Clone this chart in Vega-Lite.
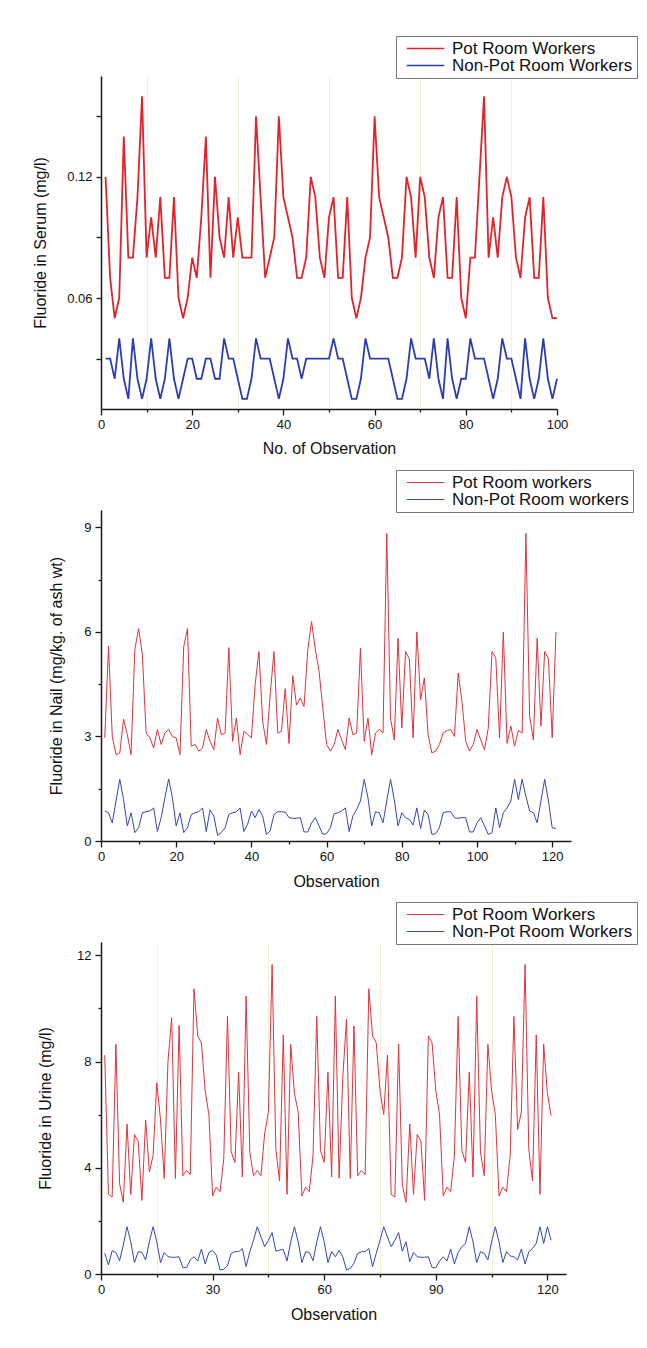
{
"$schema": "https://vega.github.io/schema/vega-lite/v6.json",
"background": "white",
"padding": {"left": 32, "top": 35, "right": 5, "bottom": 5},
"spacing": 101,
"bounds": "flush",
"resolve": {"scale": {"color": "independent"}, "legend": {"color": "independent"}},
"config": {
  "font": "Liberation Sans",
  "view": {"stroke": null},
  "axis": {"domainColor": "#1a1a1a", "domainWidth": 1.5, "tickColor": "#1a1a1a", "tickWidth": 1.3, "labelColor": "#111", "titleColor": "#111", "labelFont": "Liberation Sans", "titleFont": "Liberation Sans", "labelFontSize": 13, "titleFontSize": 16, "titleFontWeight": "normal", "labelFlush": false, "labelOverlap": false, "labelBound": false, "grid": false},
  "legend": {"orient": "none", "legendX": 295, "legendY": -40, "title": null, "symbolType": "M-2.5,0H2.5", "symbolSize": 225, "symbolOffset": 17, "labelFont": "Liberation Sans", "labelFontSize": 17, "labelColor": "#111", "strokeColor": "#777", "fillColor": "white", "padding": 4, "rowPadding": -2, "labelOffset": 18, "labelLimit": 400}
},
"datasets": {
"serum": [
{"obs":1,"group":"P","value":0.12},{"obs":2,"group":"P","value":0.07},{"obs":3,"group":"P","value":0.05},{"obs":4,"group":"P","value":0.06},{"obs":5,"group":"P","value":0.14},
{"obs":6,"group":"P","value":0.08},{"obs":7,"group":"P","value":0.08},{"obs":8,"group":"P","value":0.11},{"obs":9,"group":"P","value":0.16},{"obs":10,"group":"P","value":0.08},
{"obs":11,"group":"P","value":0.10},{"obs":12,"group":"P","value":0.08},{"obs":13,"group":"P","value":0.11},{"obs":14,"group":"P","value":0.07},{"obs":15,"group":"P","value":0.07},
{"obs":16,"group":"P","value":0.11},{"obs":17,"group":"P","value":0.06},{"obs":18,"group":"P","value":0.05},{"obs":19,"group":"P","value":0.06},{"obs":20,"group":"P","value":0.08},
{"obs":21,"group":"P","value":0.07},{"obs":22,"group":"P","value":0.10},{"obs":23,"group":"P","value":0.14},{"obs":24,"group":"P","value":0.07},{"obs":25,"group":"P","value":0.12},
{"obs":26,"group":"P","value":0.09},{"obs":27,"group":"P","value":0.08},{"obs":28,"group":"P","value":0.11},{"obs":29,"group":"P","value":0.08},{"obs":30,"group":"P","value":0.10},
{"obs":31,"group":"P","value":0.08},{"obs":32,"group":"P","value":0.08},{"obs":33,"group":"P","value":0.08},{"obs":34,"group":"P","value":0.15},{"obs":35,"group":"P","value":0.11},
{"obs":36,"group":"P","value":0.07},{"obs":37,"group":"P","value":0.08},{"obs":38,"group":"P","value":0.09},{"obs":39,"group":"P","value":0.15},{"obs":40,"group":"P","value":0.11},
{"obs":41,"group":"P","value":0.10},{"obs":42,"group":"P","value":0.09},{"obs":43,"group":"P","value":0.07},{"obs":44,"group":"P","value":0.07},{"obs":45,"group":"P","value":0.08},
{"obs":46,"group":"P","value":0.12},{"obs":47,"group":"P","value":0.11},{"obs":48,"group":"P","value":0.08},{"obs":49,"group":"P","value":0.07},{"obs":50,"group":"P","value":0.10},
{"obs":51,"group":"P","value":0.11},{"obs":52,"group":"P","value":0.07},{"obs":53,"group":"P","value":0.07},{"obs":54,"group":"P","value":0.11},{"obs":55,"group":"P","value":0.06},
{"obs":56,"group":"P","value":0.05},{"obs":57,"group":"P","value":0.06},{"obs":58,"group":"P","value":0.08},{"obs":59,"group":"P","value":0.09},{"obs":60,"group":"P","value":0.15},
{"obs":61,"group":"P","value":0.11},{"obs":62,"group":"P","value":0.10},{"obs":63,"group":"P","value":0.09},{"obs":64,"group":"P","value":0.07},{"obs":65,"group":"P","value":0.07},
{"obs":66,"group":"P","value":0.08},{"obs":67,"group":"P","value":0.12},{"obs":68,"group":"P","value":0.11},{"obs":69,"group":"P","value":0.08},{"obs":70,"group":"P","value":0.12},
{"obs":71,"group":"P","value":0.11},{"obs":72,"group":"P","value":0.08},{"obs":73,"group":"P","value":0.07},{"obs":74,"group":"P","value":0.10},{"obs":75,"group":"P","value":0.11},
{"obs":76,"group":"P","value":0.07},{"obs":77,"group":"P","value":0.07},{"obs":78,"group":"P","value":0.11},{"obs":79,"group":"P","value":0.06},{"obs":80,"group":"P","value":0.05},
{"obs":81,"group":"P","value":0.08},{"obs":82,"group":"P","value":0.08},{"obs":83,"group":"P","value":0.12},{"obs":84,"group":"P","value":0.16},{"obs":85,"group":"P","value":0.08},
{"obs":86,"group":"P","value":0.10},{"obs":87,"group":"P","value":0.08},{"obs":88,"group":"P","value":0.11},{"obs":89,"group":"P","value":0.12},{"obs":90,"group":"P","value":0.11},
{"obs":91,"group":"P","value":0.08},{"obs":92,"group":"P","value":0.07},{"obs":93,"group":"P","value":0.10},{"obs":94,"group":"P","value":0.11},{"obs":95,"group":"P","value":0.07},
{"obs":96,"group":"P","value":0.07},{"obs":97,"group":"P","value":0.11},{"obs":98,"group":"P","value":0.06},{"obs":99,"group":"P","value":0.05},{"obs":100,"group":"P","value":0.05},
{"obs":1,"group":"N","value":0.03},{"obs":2,"group":"N","value":0.03},{"obs":3,"group":"N","value":0.02},{"obs":4,"group":"N","value":0.04},{"obs":5,"group":"N","value":0.02},
{"obs":6,"group":"N","value":0.01},{"obs":7,"group":"N","value":0.04},{"obs":8,"group":"N","value":0.02},{"obs":9,"group":"N","value":0.01},{"obs":10,"group":"N","value":0.02},
{"obs":11,"group":"N","value":0.04},{"obs":12,"group":"N","value":0.02},{"obs":13,"group":"N","value":0.01},{"obs":14,"group":"N","value":0.02},{"obs":15,"group":"N","value":0.04},
{"obs":16,"group":"N","value":0.02},{"obs":17,"group":"N","value":0.01},{"obs":18,"group":"N","value":0.02},{"obs":19,"group":"N","value":0.03},{"obs":20,"group":"N","value":0.03},
{"obs":21,"group":"N","value":0.02},{"obs":22,"group":"N","value":0.02},{"obs":23,"group":"N","value":0.03},{"obs":24,"group":"N","value":0.03},{"obs":25,"group":"N","value":0.02},
{"obs":26,"group":"N","value":0.02},{"obs":27,"group":"N","value":0.04},{"obs":28,"group":"N","value":0.03},{"obs":29,"group":"N","value":0.03},{"obs":30,"group":"N","value":0.02},
{"obs":31,"group":"N","value":0.01},{"obs":32,"group":"N","value":0.01},{"obs":33,"group":"N","value":0.02},{"obs":34,"group":"N","value":0.04},{"obs":35,"group":"N","value":0.03},
{"obs":36,"group":"N","value":0.03},{"obs":37,"group":"N","value":0.03},{"obs":38,"group":"N","value":0.02},{"obs":39,"group":"N","value":0.01},{"obs":40,"group":"N","value":0.02},
{"obs":41,"group":"N","value":0.04},{"obs":42,"group":"N","value":0.03},{"obs":43,"group":"N","value":0.03},{"obs":44,"group":"N","value":0.02},{"obs":45,"group":"N","value":0.03},
{"obs":46,"group":"N","value":0.03},{"obs":47,"group":"N","value":0.03},{"obs":48,"group":"N","value":0.03},{"obs":49,"group":"N","value":0.03},{"obs":50,"group":"N","value":0.03},
{"obs":51,"group":"N","value":0.04},{"obs":52,"group":"N","value":0.03},{"obs":53,"group":"N","value":0.03},{"obs":54,"group":"N","value":0.02},{"obs":55,"group":"N","value":0.01},
{"obs":56,"group":"N","value":0.01},{"obs":57,"group":"N","value":0.02},{"obs":58,"group":"N","value":0.04},{"obs":59,"group":"N","value":0.03},{"obs":60,"group":"N","value":0.03},
{"obs":61,"group":"N","value":0.03},{"obs":62,"group":"N","value":0.03},{"obs":63,"group":"N","value":0.03},{"obs":64,"group":"N","value":0.02},{"obs":65,"group":"N","value":0.01},
{"obs":66,"group":"N","value":0.01},{"obs":67,"group":"N","value":0.02},{"obs":68,"group":"N","value":0.04},{"obs":69,"group":"N","value":0.03},{"obs":70,"group":"N","value":0.03},
{"obs":71,"group":"N","value":0.03},{"obs":72,"group":"N","value":0.02},{"obs":73,"group":"N","value":0.04},{"obs":74,"group":"N","value":0.02},{"obs":75,"group":"N","value":0.01},
{"obs":76,"group":"N","value":0.04},{"obs":77,"group":"N","value":0.02},{"obs":78,"group":"N","value":0.01},{"obs":79,"group":"N","value":0.02},{"obs":80,"group":"N","value":0.02},
{"obs":81,"group":"N","value":0.04},{"obs":82,"group":"N","value":0.03},{"obs":83,"group":"N","value":0.03},{"obs":84,"group":"N","value":0.03},{"obs":85,"group":"N","value":0.02},
{"obs":86,"group":"N","value":0.01},{"obs":87,"group":"N","value":0.02},{"obs":88,"group":"N","value":0.04},{"obs":89,"group":"N","value":0.03},{"obs":90,"group":"N","value":0.03},
{"obs":91,"group":"N","value":0.02},{"obs":92,"group":"N","value":0.01},{"obs":93,"group":"N","value":0.04},{"obs":94,"group":"N","value":0.02},{"obs":95,"group":"N","value":0.01},
{"obs":96,"group":"N","value":0.02},{"obs":97,"group":"N","value":0.04},{"obs":98,"group":"N","value":0.02},{"obs":99,"group":"N","value":0.01},{"obs":100,"group":"N","value":0.02}
],
"nail": [
{"obs":1,"group":"P","value":2.96},{"obs":2,"group":"P","value":5.6},{"obs":3,"group":"P","value":3.0},{"obs":4,"group":"P","value":2.48},{"obs":5,"group":"P","value":2.53},
{"obs":6,"group":"P","value":3.5},{"obs":7,"group":"P","value":3.05},{"obs":8,"group":"P","value":2.48},{"obs":9,"group":"P","value":5.5},{"obs":10,"group":"P","value":6.1},
{"obs":11,"group":"P","value":5.35},{"obs":12,"group":"P","value":3.1},{"obs":13,"group":"P","value":2.96},{"obs":14,"group":"P","value":2.67},{"obs":15,"group":"P","value":3.2},
{"obs":16,"group":"P","value":2.77},{"obs":17,"group":"P","value":3.1},{"obs":18,"group":"P","value":3.2},{"obs":19,"group":"P","value":3.0},{"obs":20,"group":"P","value":2.96},
{"obs":21,"group":"P","value":2.48},{"obs":22,"group":"P","value":5.58},{"obs":23,"group":"P","value":6.1},{"obs":24,"group":"P","value":2.72},{"obs":25,"group":"P","value":2.77},
{"obs":26,"group":"P","value":2.58},{"obs":27,"group":"P","value":2.67},{"obs":28,"group":"P","value":3.2},{"obs":29,"group":"P","value":2.86},{"obs":30,"group":"P","value":2.62},
{"obs":31,"group":"P","value":3.53},{"obs":32,"group":"P","value":3.05},{"obs":33,"group":"P","value":3.1},{"obs":34,"group":"P","value":5.55},{"obs":35,"group":"P","value":2.86},
{"obs":36,"group":"P","value":3.53},{"obs":37,"group":"P","value":2.48},{"obs":38,"group":"P","value":3.15},{"obs":39,"group":"P","value":3.05},{"obs":40,"group":"P","value":2.96},
{"obs":41,"group":"P","value":4.5},{"obs":42,"group":"P","value":5.44},{"obs":43,"group":"P","value":3.43},{"obs":44,"group":"P","value":2.77},{"obs":45,"group":"P","value":4.2},
{"obs":46,"group":"P","value":5.44},{"obs":47,"group":"P","value":3.1},{"obs":48,"group":"P","value":3.15},{"obs":49,"group":"P","value":4.37},{"obs":50,"group":"P","value":2.8},
{"obs":51,"group":"P","value":4.75},{"obs":52,"group":"P","value":3.9},{"obs":53,"group":"P","value":4.1},{"obs":54,"group":"P","value":3.86},{"obs":55,"group":"P","value":5.5},
{"obs":56,"group":"P","value":6.3},{"obs":57,"group":"P","value":5.5},{"obs":58,"group":"P","value":4.87},{"obs":59,"group":"P","value":3.8},{"obs":60,"group":"P","value":2.77},
{"obs":61,"group":"P","value":2.58},{"obs":62,"group":"P","value":2.77},{"obs":63,"group":"P","value":3.2},{"obs":64,"group":"P","value":2.9},{"obs":65,"group":"P","value":2.62},
{"obs":66,"group":"P","value":3.53},{"obs":67,"group":"P","value":3.05},{"obs":68,"group":"P","value":3.1},{"obs":69,"group":"P","value":5.53},{"obs":70,"group":"P","value":2.86},
{"obs":71,"group":"P","value":3.53},{"obs":72,"group":"P","value":2.48},{"obs":73,"group":"P","value":3.1},{"obs":74,"group":"P","value":3.2},{"obs":75,"group":"P","value":3.1},
{"obs":76,"group":"P","value":8.83},{"obs":77,"group":"P","value":3.53},{"obs":78,"group":"P","value":2.9},{"obs":79,"group":"P","value":5.82},{"obs":80,"group":"P","value":3.24},
{"obs":81,"group":"P","value":5.44},{"obs":82,"group":"P","value":5.23},{"obs":83,"group":"P","value":2.96},{"obs":84,"group":"P","value":6.0},{"obs":85,"group":"P","value":4.05},
{"obs":86,"group":"P","value":4.68},{"obs":87,"group":"P","value":3.05},{"obs":88,"group":"P","value":2.53},{"obs":89,"group":"P","value":2.58},{"obs":90,"group":"P","value":2.77},
{"obs":91,"group":"P","value":3.1},{"obs":92,"group":"P","value":3.17},{"obs":93,"group":"P","value":3.2},{"obs":94,"group":"P","value":3.0},{"obs":95,"group":"P","value":4.82},
{"obs":96,"group":"P","value":4.0},{"obs":97,"group":"P","value":2.86},{"obs":98,"group":"P","value":2.58},{"obs":99,"group":"P","value":2.77},{"obs":100,"group":"P","value":3.2},
{"obs":101,"group":"P","value":2.9},{"obs":102,"group":"P","value":2.62},{"obs":103,"group":"P","value":3.24},{"obs":104,"group":"P","value":5.44},{"obs":105,"group":"P","value":5.25},
{"obs":106,"group":"P","value":2.96},{"obs":107,"group":"P","value":6.0},{"obs":108,"group":"P","value":2.8},{"obs":109,"group":"P","value":3.3},{"obs":110,"group":"P","value":2.72},
{"obs":111,"group":"P","value":3.17},{"obs":112,"group":"P","value":3.1},{"obs":113,"group":"P","value":8.83},{"obs":114,"group":"P","value":3.58},{"obs":115,"group":"P","value":2.9},
{"obs":116,"group":"P","value":5.82},{"obs":117,"group":"P","value":3.3},{"obs":118,"group":"P","value":5.44},{"obs":119,"group":"P","value":5.23},{"obs":120,"group":"P","value":2.96},
{"obs":121,"group":"P","value":6.0},
{"obs":1,"group":"N","value":0.86},{"obs":2,"group":"N","value":0.81},{"obs":3,"group":"N","value":0.52},{"obs":4,"group":"N","value":1.15},{"obs":5,"group":"N","value":1.77},
{"obs":6,"group":"N","value":1.19},{"obs":7,"group":"N","value":0.43},{"obs":8,"group":"N","value":0.81},{"obs":9,"group":"N","value":0.24},{"obs":10,"group":"N","value":0.38},
{"obs":11,"group":"N","value":0.81},{"obs":12,"group":"N","value":0.84},{"obs":13,"group":"N","value":0.86},{"obs":14,"group":"N","value":0.95},{"obs":15,"group":"N","value":0.27},
{"obs":16,"group":"N","value":0.67},{"obs":17,"group":"N","value":1.24},{"obs":18,"group":"N","value":1.78},{"obs":19,"group":"N","value":1.24},{"obs":20,"group":"N","value":0.43},
{"obs":21,"group":"N","value":0.81},{"obs":22,"group":"N","value":0.24},{"obs":23,"group":"N","value":0.38},{"obs":24,"group":"N","value":0.76},{"obs":25,"group":"N","value":0.81},
{"obs":26,"group":"N","value":0.84},{"obs":27,"group":"N","value":0.95},{"obs":28,"group":"N","value":0.27},{"obs":29,"group":"N","value":0.89},{"obs":30,"group":"N","value":0.72},
{"obs":31,"group":"N","value":0.16},{"obs":32,"group":"N","value":0.24},{"obs":33,"group":"N","value":0.38},{"obs":34,"group":"N","value":0.76},{"obs":35,"group":"N","value":0.81},
{"obs":36,"group":"N","value":0.84},{"obs":37,"group":"N","value":0.95},{"obs":38,"group":"N","value":0.27},{"obs":39,"group":"N","value":0.48},{"obs":40,"group":"N","value":0.86},
{"obs":41,"group":"N","value":0.67},{"obs":42,"group":"N","value":0.9},{"obs":43,"group":"N","value":0.72},{"obs":44,"group":"N","value":0.19},{"obs":45,"group":"N","value":0.29},
{"obs":46,"group":"N","value":0.76},{"obs":47,"group":"N","value":0.84},{"obs":48,"group":"N","value":0.84},{"obs":49,"group":"N","value":0.83},{"obs":50,"group":"N","value":0.67},
{"obs":51,"group":"N","value":0.65},{"obs":52,"group":"N","value":0.65},{"obs":53,"group":"N","value":0.67},{"obs":54,"group":"N","value":0.26},{"obs":55,"group":"N","value":0.26},
{"obs":56,"group":"N","value":0.52},{"obs":57,"group":"N","value":0.67},{"obs":58,"group":"N","value":0.43},{"obs":59,"group":"N","value":0.19},{"obs":60,"group":"N","value":0.21},
{"obs":61,"group":"N","value":0.38},{"obs":62,"group":"N","value":0.78},{"obs":63,"group":"N","value":0.81},{"obs":64,"group":"N","value":0.86},{"obs":65,"group":"N","value":0.95},
{"obs":66,"group":"N","value":0.27},{"obs":67,"group":"N","value":0.72},{"obs":68,"group":"N","value":0.9},{"obs":69,"group":"N","value":1.15},{"obs":70,"group":"N","value":1.77},
{"obs":71,"group":"N","value":1.24},{"obs":72,"group":"N","value":0.43},{"obs":73,"group":"N","value":0.84},{"obs":74,"group":"N","value":0.81},{"obs":75,"group":"N","value":0.52},
{"obs":76,"group":"N","value":1.15},{"obs":77,"group":"N","value":1.77},{"obs":78,"group":"N","value":1.19},{"obs":79,"group":"N","value":0.43},{"obs":80,"group":"N","value":0.81},
{"obs":81,"group":"N","value":0.67},{"obs":82,"group":"N","value":0.62},{"obs":83,"group":"N","value":0.46},{"obs":84,"group":"N","value":0.95},{"obs":85,"group":"N","value":0.36},
{"obs":86,"group":"N","value":0.89},{"obs":87,"group":"N","value":0.76},{"obs":88,"group":"N","value":0.19},{"obs":89,"group":"N","value":0.21},{"obs":90,"group":"N","value":0.38},
{"obs":91,"group":"N","value":0.81},{"obs":92,"group":"N","value":0.84},{"obs":93,"group":"N","value":0.84},{"obs":94,"group":"N","value":0.67},{"obs":95,"group":"N","value":0.65},
{"obs":96,"group":"N","value":0.67},{"obs":97,"group":"N","value":0.67},{"obs":98,"group":"N","value":0.26},{"obs":99,"group":"N","value":0.26},{"obs":100,"group":"N","value":0.52},
{"obs":101,"group":"N","value":0.67},{"obs":102,"group":"N","value":0.43},{"obs":103,"group":"N","value":0.19},{"obs":104,"group":"N","value":0.24},{"obs":105,"group":"N","value":0.95},
{"obs":106,"group":"N","value":0.38},{"obs":107,"group":"N","value":0.81},{"obs":108,"group":"N","value":0.95},{"obs":109,"group":"N","value":1.15},{"obs":110,"group":"N","value":1.77},
{"obs":111,"group":"N","value":1.19},{"obs":112,"group":"N","value":1.77},{"obs":113,"group":"N","value":1.29},{"obs":114,"group":"N","value":0.86},{"obs":115,"group":"N","value":0.81},
{"obs":116,"group":"N","value":0.52},{"obs":117,"group":"N","value":1.15},{"obs":118,"group":"N","value":1.77},{"obs":119,"group":"N","value":1.15},{"obs":120,"group":"N","value":0.38},
{"obs":121,"group":"N","value":0.36}
],
"urine": [
{"obs":1,"group":"P","value":8.24},{"obs":2,"group":"P","value":3.0},{"obs":3,"group":"P","value":2.9},{"obs":4,"group":"P","value":8.65},{"obs":5,"group":"P","value":3.4},
{"obs":6,"group":"P","value":2.7},{"obs":7,"group":"P","value":5.65},{"obs":8,"group":"P","value":3.0},{"obs":9,"group":"P","value":5.25},{"obs":10,"group":"P","value":5.0},
{"obs":11,"group":"P","value":2.77},{"obs":12,"group":"P","value":5.8},{"obs":13,"group":"P","value":3.84},{"obs":14,"group":"P","value":4.46},{"obs":15,"group":"P","value":7.2},
{"obs":16,"group":"P","value":5.8},{"obs":17,"group":"P","value":3.6},{"obs":18,"group":"P","value":8.0},{"obs":19,"group":"P","value":9.65},{"obs":20,"group":"P","value":3.6},
{"obs":21,"group":"P","value":9.36},{"obs":22,"group":"P","value":3.7},{"obs":23,"group":"P","value":3.9},{"obs":24,"group":"P","value":3.74},{"obs":25,"group":"P","value":10.74},
{"obs":26,"group":"P","value":8.96},{"obs":27,"group":"P","value":8.7},{"obs":28,"group":"P","value":6.9},{"obs":29,"group":"P","value":6.0},{"obs":30,"group":"P","value":2.94},
{"obs":31,"group":"P","value":3.27},{"obs":32,"group":"P","value":3.1},{"obs":33,"group":"P","value":4.33},{"obs":34,"group":"P","value":9.7},{"obs":35,"group":"P","value":4.6},
{"obs":36,"group":"P","value":4.2},{"obs":37,"group":"P","value":7.6},{"obs":38,"group":"P","value":3.65},{"obs":39,"group":"P","value":10.46},{"obs":40,"group":"P","value":4.6},
{"obs":41,"group":"P","value":3.7},{"obs":42,"group":"P","value":3.9},{"obs":43,"group":"P","value":3.7},{"obs":44,"group":"P","value":5.3},{"obs":45,"group":"P","value":6.1},
{"obs":46,"group":"P","value":11.65},{"obs":47,"group":"P","value":4.7},{"obs":48,"group":"P","value":3.5},{"obs":49,"group":"P","value":9.0},{"obs":50,"group":"P","value":3.0},
{"obs":51,"group":"P","value":8.65},{"obs":52,"group":"P","value":6.8},{"obs":53,"group":"P","value":6.1},{"obs":54,"group":"P","value":2.94},{"obs":55,"group":"P","value":3.27},
{"obs":56,"group":"P","value":3.1},{"obs":57,"group":"P","value":4.46},{"obs":58,"group":"P","value":9.7},{"obs":59,"group":"P","value":4.65},{"obs":60,"group":"P","value":4.2},
{"obs":61,"group":"P","value":7.6},{"obs":62,"group":"P","value":3.65},{"obs":63,"group":"P","value":10.46},{"obs":64,"group":"P","value":3.6},{"obs":65,"group":"P","value":7.4},
{"obs":66,"group":"P","value":9.6},{"obs":67,"group":"P","value":3.6},{"obs":68,"group":"P","value":9.34},{"obs":69,"group":"P","value":3.7},{"obs":70,"group":"P","value":3.9},
{"obs":71,"group":"P","value":3.74},{"obs":72,"group":"P","value":10.74},{"obs":73,"group":"P","value":8.96},{"obs":74,"group":"P","value":8.7},{"obs":75,"group":"P","value":6.9},
{"obs":76,"group":"P","value":6.0},{"obs":77,"group":"P","value":8.24},{"obs":78,"group":"P","value":3.0},{"obs":79,"group":"P","value":2.9},{"obs":80,"group":"P","value":8.65},
{"obs":81,"group":"P","value":3.34},{"obs":82,"group":"P","value":2.7},{"obs":83,"group":"P","value":5.65},{"obs":84,"group":"P","value":3.0},{"obs":85,"group":"P","value":5.25},
{"obs":86,"group":"P","value":5.0},{"obs":87,"group":"P","value":2.77},{"obs":88,"group":"P","value":8.96},{"obs":89,"group":"P","value":8.7},{"obs":90,"group":"P","value":6.9},
{"obs":91,"group":"P","value":6.0},{"obs":92,"group":"P","value":2.94},{"obs":93,"group":"P","value":3.27},{"obs":94,"group":"P","value":3.1},{"obs":95,"group":"P","value":4.46},
{"obs":96,"group":"P","value":9.7},{"obs":97,"group":"P","value":4.65},{"obs":98,"group":"P","value":4.2},{"obs":99,"group":"P","value":7.6},{"obs":100,"group":"P","value":3.65},
{"obs":101,"group":"P","value":10.46},{"obs":102,"group":"P","value":4.6},{"obs":103,"group":"P","value":3.7},{"obs":104,"group":"P","value":8.65},{"obs":105,"group":"P","value":6.9},
{"obs":106,"group":"P","value":6.0},{"obs":107,"group":"P","value":2.94},{"obs":108,"group":"P","value":3.27},{"obs":109,"group":"P","value":3.1},{"obs":110,"group":"P","value":4.46},
{"obs":111,"group":"P","value":9.7},{"obs":112,"group":"P","value":5.44},{"obs":113,"group":"P","value":6.1},{"obs":114,"group":"P","value":11.65},{"obs":115,"group":"P","value":4.7},
{"obs":116,"group":"P","value":3.5},{"obs":117,"group":"P","value":9.0},{"obs":118,"group":"P","value":3.0},{"obs":119,"group":"P","value":8.65},{"obs":120,"group":"P","value":6.8},
{"obs":121,"group":"P","value":5.96},
{"obs":1,"group":"N","value":0.78},{"obs":2,"group":"N","value":0.34},{"obs":3,"group":"N","value":0.88},{"obs":4,"group":"N","value":0.81},{"obs":5,"group":"N","value":0.5},
{"obs":6,"group":"N","value":1.09},{"obs":7,"group":"N","value":1.78},{"obs":8,"group":"N","value":1.21},{"obs":9,"group":"N","value":0.43},{"obs":10,"group":"N","value":0.84},
{"obs":11,"group":"N","value":0.81},{"obs":12,"group":"N","value":0.53},{"obs":13,"group":"N","value":1.21},{"obs":14,"group":"N","value":1.78},{"obs":15,"group":"N","value":1.21},
{"obs":16,"group":"N","value":0.43},{"obs":17,"group":"N","value":0.81},{"obs":18,"group":"N","value":0.65},{"obs":19,"group":"N","value":0.63},{"obs":20,"group":"N","value":0.63},
{"obs":21,"group":"N","value":0.65},{"obs":22,"group":"N","value":0.24},{"obs":23,"group":"N","value":0.24},{"obs":24,"group":"N","value":0.53},{"obs":25,"group":"N","value":0.65},
{"obs":26,"group":"N","value":0.49},{"obs":27,"group":"N","value":0.94},{"obs":28,"group":"N","value":0.38},{"obs":29,"group":"N","value":0.81},{"obs":30,"group":"N","value":0.88},
{"obs":31,"group":"N","value":0.71},{"obs":32,"group":"N","value":0.15},{"obs":33,"group":"N","value":0.18},{"obs":34,"group":"N","value":0.31},{"obs":35,"group":"N","value":0.78},
{"obs":36,"group":"N","value":0.84},{"obs":37,"group":"N","value":0.84},{"obs":38,"group":"N","value":0.96},{"obs":39,"group":"N","value":0.28},{"obs":40,"group":"N","value":0.84},
{"obs":41,"group":"N","value":1.27},{"obs":42,"group":"N","value":1.78},{"obs":43,"group":"N","value":1.4},{"obs":44,"group":"N","value":1.03},{"obs":45,"group":"N","value":1.27},
{"obs":46,"group":"N","value":1.56},{"obs":47,"group":"N","value":0.86},{"obs":48,"group":"N","value":0.9},{"obs":49,"group":"N","value":0.93},{"obs":50,"group":"N","value":0.49},
{"obs":51,"group":"N","value":1.21},{"obs":52,"group":"N","value":1.78},{"obs":53,"group":"N","value":1.21},{"obs":54,"group":"N","value":0.43},{"obs":55,"group":"N","value":0.84},
{"obs":56,"group":"N","value":0.81},{"obs":57,"group":"N","value":0.5},{"obs":58,"group":"N","value":1.21},{"obs":59,"group":"N","value":1.78},{"obs":60,"group":"N","value":1.21},
{"obs":61,"group":"N","value":0.43},{"obs":62,"group":"N","value":0.84},{"obs":63,"group":"N","value":0.65},{"obs":64,"group":"N","value":0.88},{"obs":65,"group":"N","value":0.65},
{"obs":66,"group":"N","value":0.15},{"obs":67,"group":"N","value":0.21},{"obs":68,"group":"N","value":0.4},{"obs":69,"group":"N","value":0.78},{"obs":70,"group":"N","value":0.84},
{"obs":71,"group":"N","value":0.84},{"obs":72,"group":"N","value":0.96},{"obs":73,"group":"N","value":0.28},{"obs":74,"group":"N","value":0.78},{"obs":75,"group":"N","value":1.27},
{"obs":76,"group":"N","value":1.78},{"obs":77,"group":"N","value":1.4},{"obs":78,"group":"N","value":1.03},{"obs":79,"group":"N","value":1.27},{"obs":80,"group":"N","value":1.56},
{"obs":81,"group":"N","value":0.86},{"obs":82,"group":"N","value":1.21},{"obs":83,"group":"N","value":0.46},{"obs":84,"group":"N","value":0.81},{"obs":85,"group":"N","value":0.65},
{"obs":86,"group":"N","value":0.63},{"obs":87,"group":"N","value":0.63},{"obs":88,"group":"N","value":0.65},{"obs":89,"group":"N","value":0.24},{"obs":90,"group":"N","value":0.24},
{"obs":91,"group":"N","value":0.49},{"obs":92,"group":"N","value":0.65},{"obs":93,"group":"N","value":0.49},{"obs":94,"group":"N","value":0.94},{"obs":95,"group":"N","value":0.38},
{"obs":96,"group":"N","value":0.81},{"obs":97,"group":"N","value":1.03},{"obs":98,"group":"N","value":1.15},{"obs":99,"group":"N","value":1.78},{"obs":100,"group":"N","value":1.21},
{"obs":101,"group":"N","value":0.43},{"obs":102,"group":"N","value":0.84},{"obs":103,"group":"N","value":0.78},{"obs":104,"group":"N","value":0.53},{"obs":105,"group":"N","value":1.21},
{"obs":106,"group":"N","value":1.78},{"obs":107,"group":"N","value":1.21},{"obs":108,"group":"N","value":0.43},{"obs":109,"group":"N","value":0.84},{"obs":110,"group":"N","value":0.68},
{"obs":111,"group":"N","value":0.65},{"obs":112,"group":"N","value":0.53},{"obs":113,"group":"N","value":0.94},{"obs":114,"group":"N","value":0.38},{"obs":115,"group":"N","value":0.84},
{"obs":116,"group":"N","value":0.96},{"obs":117,"group":"N","value":1.15},{"obs":118,"group":"N","value":1.78},{"obs":119,"group":"N","value":1.15},{"obs":120,"group":"N","value":1.78},
{"obs":121,"group":"N","value":1.27}
]
},
"vconcat": [
{
  "width": 456, "height": 333,
  "data": {"name": "serum"},
  "mark": {"type": "line", "strokeWidth": 1.8},
  "encoding": {
    "x": {"field": "obs", "type": "quantitative", "scale": {"domain": [0, 100], "nice": false, "zero": false},
      "axis": {"title": "No. of Observation", "values": [0,10,20,30,40,50,60,70,80,90,100], "labelExpr": "datum.value % 20 == 0 ? datum.label : ''", "tickSize": {"condition": {"test": "datum.value % 20 == 0", "value": 6}, "value": 3}, "labelPadding": 3, "titleY": 39, "titleBaseline": "middle", "grid": true, "gridColor": {"condition": {"test": "datum.value % 20 == 10", "value": "#f0f0d8"}, "value": "transparent"}}},
    "y": {"field": "value", "type": "quantitative", "scale": {"domain": [0.005, 0.17], "nice": false, "zero": false},
      "axis": {"title": "Fluoride in Serum (mg/l)", "values": [0.03,0.06,0.09,0.12,0.15], "format": ".2f", "labelExpr": "(datum.value == 0.06 || datum.value == 0.12) ? datum.label : ''", "tickSize": 5, "labelPadding": 4, "titleX": -61, "titleBaseline": "middle"}},
    "color": {"field": "group", "type": "nominal", "sort": ["P", "N"], "scale": {"domain": ["P", "N"], "range": ["#e2232b", "#2b3db0"]},
      "legend": {"symbolStrokeWidth": 1.6, "labelExpr": "datum.label == 'P' ? 'Pot Room Workers' : 'Non-Pot Room Workers'"}}
  }
},
{
  "width": 470, "height": 331,
  "data": {"name": "nail"},
  "mark": {"type": "line", "strokeWidth": 1},
  "encoding": {
    "x": {"field": "obs", "type": "quantitative", "scale": {"domain": [0, 125], "nice": false, "zero": false},
      "axis": {"title": "Observation", "values": [0,10,20,30,40,50,60,70,80,90,100,110,120], "labelExpr": "datum.value % 20 == 0 ? datum.label : ''", "tickSize": {"condition": {"test": "datum.value % 20 == 0", "value": 6}, "value": 3}, "labelPadding": 3, "titleY": 40, "titleBaseline": "middle"}},
    "y": {"field": "value", "type": "quantitative", "scale": {"domain": [0, 9.5], "nice": false, "zero": false},
      "axis": {"title": "Fluoride in Nail (mg/kg. of ash wt)", "values": [0,1.5,3,4.5,6,7.5,9], "labelExpr": "datum.value % 3 == 0 ? datum.label : ''", "tickSize": {"condition": {"test": "datum.value % 3 == 0", "value": 6}, "value": 3}, "labelPadding": 4, "titleX": -45, "titleBaseline": "middle"}},
    "color": {"field": "group", "type": "nominal", "sort": ["P", "N"], "scale": {"domain": ["P", "N"], "range": ["#e2323a", "#3447b3"]},
      "legend": {"symbolStrokeWidth": 1, "labelExpr": "datum.label == 'P' ? 'Pot Room workers' : 'Non-Pot Room workers'"}}
  }
},
{
  "width": 465, "height": 332,
  "data": {"name": "urine"},
  "mark": {"type": "line", "strokeWidth": 1},
  "encoding": {
    "x": {"field": "obs", "type": "quantitative", "scale": {"domain": [0, 125], "nice": false, "zero": false},
      "axis": {"title": "Observation", "values": [0,15,30,45,60,75,90,105,120], "labelExpr": "datum.value % 30 == 0 ? datum.label : ''", "tickSize": {"condition": {"test": "datum.value % 30 == 0", "value": 6}, "value": 3}, "labelPadding": 3, "titleY": 40, "titleBaseline": "middle", "grid": true, "gridColor": {"condition": {"test": "datum.value % 30 == 15", "value": "#f0f0d8"}, "value": "transparent"}}},
    "y": {"field": "value", "type": "quantitative", "scale": {"domain": [0, 12.5], "nice": false, "zero": false},
      "axis": {"title": "Fluoride in Urine (mg/l)", "values": [0,2,4,6,8,10,12], "labelExpr": "datum.value % 4 == 0 ? datum.label : ''", "tickSize": {"condition": {"test": "datum.value % 4 == 0", "value": 6}, "value": 3}, "labelPadding": 4, "titleX": -56, "titleBaseline": "middle"}},
    "color": {"field": "group", "type": "nominal", "sort": ["P", "N"], "scale": {"domain": ["P", "N"], "range": ["#e2323a", "#3447b3"]},
      "legend": {"symbolStrokeWidth": 1, "labelExpr": "datum.label == 'P' ? 'Pot Room Workers' : 'Non-Pot Room Workers'"}}
  }
}
]
}
